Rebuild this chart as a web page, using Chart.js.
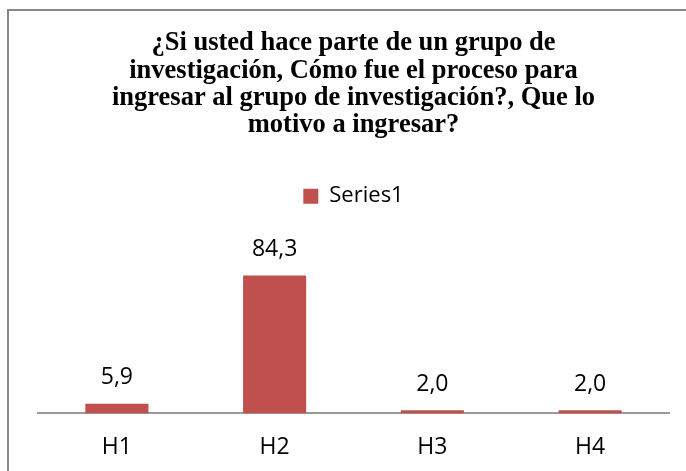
<!DOCTYPE html>
<html>
<head>
<meta charset="utf-8">
<script src="https://cdn.jsdelivr.net/npm/chart.js@4/dist/chart.umd.min.js"></script>
<style>
  html, body { margin: 0; padding: 0; background: #fff; overflow: hidden; }
  #wrap { width: 686px; height: 471px; position: relative; }
</style>
</head>
<body>
<div id="wrap"><canvas id="c" width="686" height="471"></canvas></div>
<script>
const categories = ['H1', 'H2', 'H3', 'H4'];
const seriesName = 'Series1';
const values = [5.9, 84.3, 2.0, 2.0];
const titleLines = [
  '¿Si usted hace parte de un grupo de',
  'investigación, Cómo fue el proceso para',
  'ingresar al grupo de investigación?, Que lo',
  'motivo a ingresar?'
];

const frame = {
  id: 'frame',
  beforeDraw(chart) {
    const ctx = chart.ctx;
    ctx.save();
    ctx.fillStyle = '#ffffff';
    ctx.fillRect(0, 0, chart.width, chart.height);
    ctx.strokeStyle = '#878787';
    ctx.lineWidth = 2;
    ctx.beginPath();
    ctx.moveTo(8, chart.height);
    ctx.lineTo(8, 10);
    ctx.lineTo(chart.width, 10);
    ctx.stroke();
    ctx.restore();
  }
};

const dataLabels = {
  id: 'dataLabels',
  afterDatasetsDraw(chart) {
    const ctx = chart.ctx;
    ctx.save();
    ctx.font = '23px "Open Sans"';
    ctx.fillStyle = '#000000';
    ctx.textAlign = 'center';
    ctx.textBaseline = 'middle';
    chart.getDatasetMeta(0).data.forEach((bar, i) => {
      const txt = values[i].toFixed(1).replace('.', ',');
      ctx.fillText(txt, bar.x, bar.y - 26);
    });
    ctx.restore();
  }
};

new Chart(document.getElementById('c'), {
  type: 'bar',
  data: {
    labels: categories,
    datasets: [{
      label: seriesName,
      data: values,
      backgroundColor: '#C0504D',
      borderWidth: 0,
      barPercentage: 0.4,
      categoryPercentage: 1.0
    }]
  },
  options: {
    responsive: false,
    animation: false,
    devicePixelRatio: 1,
    layout: { padding: { left: 38, right: 17, top: 0, bottom: -10 } },
    plugins: {
      title: {
        display: true,
        text: titleLines,
        color: '#000000',
        font: { family: '"Liberation Serif", "Times New Roman", serif', size: 26.5, weight: 'bold', lineHeight: 1.03 },
        padding: { top: 30, bottom: 36 }
      },
      legend: {
        display: true,
        position: 'top',
        labels: {
          color: '#000000',
          font: { family: '"Open Sans"', size: 22 },
          boxWidth: 15,
          boxHeight: 15,
          padding: 10
        }
      },
      tooltip: { enabled: false }
    },
    scales: {
      x: {
        grid: { display: false, drawTicks: false },
        border: { display: true, color: '#9a9a9a', width: 2 },
        ticks: { color: '#000000', font: { family: '"Open Sans"', size: 23 }, padding: 20 }
      },
      y: {
        display: false,
        min: 0,
        max: 120
      }
    }
  },
  plugins: [frame, dataLabels]
});
</script>
</body>
</html>
